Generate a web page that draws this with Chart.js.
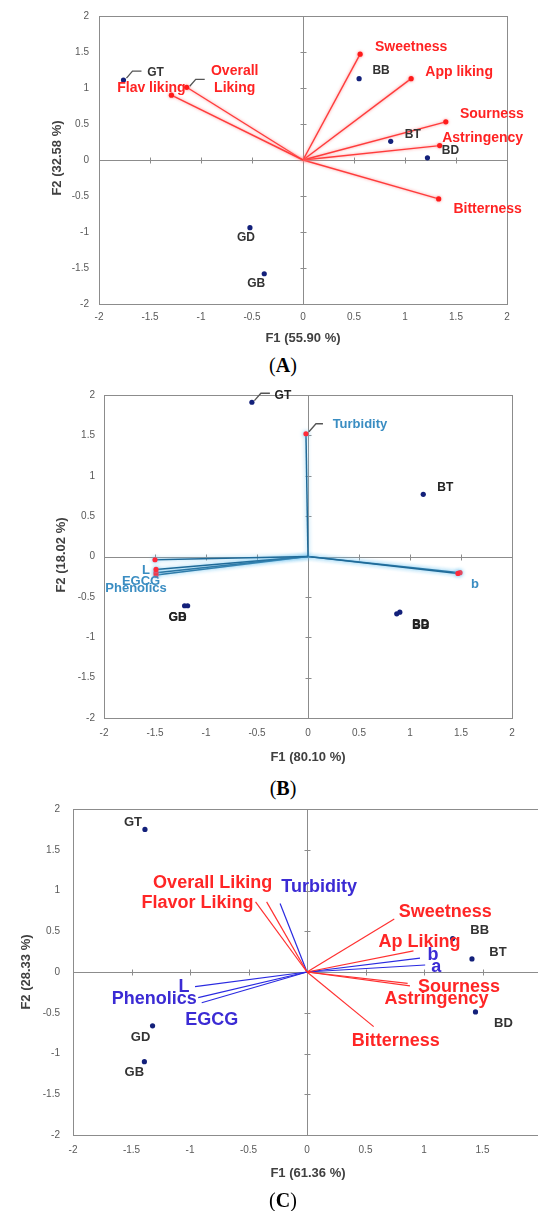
<!DOCTYPE html>
<html>
<head>
<meta charset="utf-8">
<script src="https://cdn.jsdelivr.net/npm/chart.js@4.4.1/dist/chart.umd.min.js"></script>
<style>
    html, body { margin: 0; padding: 0; background: #fff; width: 538px; height: 1211px; overflow: hidden; }
    .panel { position: absolute; left: 0; width: 538px; overflow: hidden; }
    .panel canvas { position: absolute; left: 0; top: 0; }
    .cap { position: absolute; left: 233px; width: 100px; height: 24px; line-height: 24px; text-align: center;
           font-family: "Liberation Serif", "DejaVu Serif", serif; font-size: 20px; color: #000; }
</style>
</head>
<body>
<div class="panel" id="pA" style="top:0;height:350px"><canvas id="cA"></canvas></div>
<div class="cap" style="top:353px">(<b>A</b>)</div>
<div class="panel" id="pB" style="top:380px;height:390px"><canvas id="cB"></canvas></div>
<div class="cap" style="top:776px">(<b>B</b>)</div>
<div class="panel" id="pC" style="top:790px;height:400px"><canvas id="cC"></canvas></div>
<div class="cap" style="top:1188px">(<b>C</b>)</div>

<script>
(function () {
    'use strict';

    var tickValues = [-2, -1.5, -1, -0.5, 0, 0.5, 1, 1.5, 2];

    // (A) sensory attributes
    var aSampleNames = ['GT', 'BB', 'BT', 'BD', 'GD', 'GB'];
    var aSampleF1 = [-1.76, 0.55, 0.86, 1.22, -0.52, -0.38];
    var aSampleF2 = [1.11, 1.13, 0.26, 0.03, -0.94, -1.58];
    var aVarNames = ['Flav liking', 'Overall\nLiking', 'Sweetness', 'App liking', 'Sourness', 'Astringency', 'Bitterness'];
    var aVarF1 = [-1.29, -1.14, 0.56, 1.06, 1.40, 1.34, 1.33];
    var aVarF2 = [0.90, 1.01, 1.47, 1.13, 0.53, 0.20, -0.54];

    // (B) instrumental measures
    var bSampleNames = ['GT', 'BT', 'GD', 'GB', 'BB', 'BD'];
    var bSampleF1 = [-0.55, 1.13, -1.21, -1.18, 0.87, 0.90];
    var bSampleF2 = [1.91, 0.77, -0.61, -0.61, -0.71, -0.69];
    var bVarNames = ['Turbidity', '', 'L', 'EGCG', 'Phenolics', 'a', 'b'];
    var bVarF1 = [-0.02, -1.50, -1.49, -1.49, -1.49, 1.47, 1.49];
    var bVarF2 = [1.52, -0.04, -0.16, -0.20, -0.23, -0.21, -0.20];

    // (C) sensory + instrumental
    var cSampleNames = ['GT', 'GD', 'GB', 'BB', 'BT', 'BD'];
    var cSampleF1 = [-1.385, -1.32, -1.39, 1.245, 1.41, 1.44];
    var cSampleF2 = [1.75, -0.66, -1.10, 0.41, 0.16, -0.49];
    var cSensNames = ['Overall Liking', 'Flavor Liking', 'Sweetness', 'Ap Liking', 'Sourness', 'Astringency', 'Bitterness'];
    var cSensF1 = [-0.345, -0.44, 0.746, 0.91, 0.88, 0.86, 0.57];
    var cSensF2 = [0.86, 0.86, 0.65, 0.26, -0.17, -0.14, -0.67];
    var cInstNames = ['Turbidity', 'L', 'Phenolics', 'EGCG', 'b', 'a'];
    var cInstF1 = [-0.23, -0.957, -0.93, -0.90, 0.966, 1.01];
    var cInstF2 = [0.84, -0.18, -0.315, -0.377, 0.17, 0.086];

    var SANS = '"Liberation Sans", Arial, sans-serif';

    // label offsets in px from the point (null = label hidden under another), plus leader paths
    var offA = {
        'GT': [32, -7], 'BB': [22, -8], 'BT': [22, -7], 'BD': [23, -7], 'GD': [-4, 10], 'GB': [-8, 10],
        'Flav liking': [-20, -7], 'Overall\nLiking': [48, -8], 'Sweetness': [51, -7], 'App liking': [48, -6],
        'Sourness': [46, -8], 'Astringency': [43, -7], 'Bitterness': [49, 10]
    };
    var leadA = {
        'GT': [[3, -2], [9, -9], [18, -9]],
        'Overall\nLiking': [[3, -1], [9, -8], [18, -8]]
    };
    var offB = {
        'GT': [31, -7], 'BT': [22, -7], 'GD': [-7, 12], 'GB': [-10, 12], 'BB': [24, 12], 'BD': [21, 12],
        'Turbidity': [54, -9], 'L': [-10, 1], 'EGCG': [-15, 9], 'Phenolics': [-20, 13], 'a': null, 'b': [15, 12]
    };
    var leadB = {
        'GT': [[2.5, -1.6], [9, -9], [18, -9]],
        'Turbidity': [[3, -2], [10, -10], [17, -10]]
    };
    var offC = {
        'GT': [-12, -7], 'GD': [-12, 12], 'GB': [-10, 11], 'BB': [27, -8], 'BT': [26, -7], 'BD': [28, 11],
        'Overall Liking': [-54, -19], 'Flavor Liking': [-58, 1], 'Sweetness': [51, -7], 'Ap Liking': [6, -9],
        'Sourness': [49, 1], 'Astringency': [29, 16], 'Bitterness': [22, 14],
        'Turbidity': [39, -17], 'L': [-11, 0], 'Phenolics': [-44, 1], 'EGCG': [10, 17], 'b': [13, -3], 'a': [11, 2]
    };

    function pts(f1, f2) {
        return f1.map(function (x, i) { return { x: x, y: f2[i] }; });
    }

    function vectorSets(names, f1, f2, st) {
        return names.map(function (n, i) {
            return {
                label: n,
                data: [{ x: 0, y: 0 }, { x: f1[i], y: f2[i] }],
                showLine: true,
                borderColor: st.line,
                borderWidth: st.width,
                pointRadius: [0, st.dot],
                pointHoverRadius: 0,
                pointBackgroundColor: st.dotColor,
                pointBorderWidth: 0,
                glow: st.glow
            };
        });
    }

    function sampleSet(f1, f2) {
        return {
            label: 'samples',
            data: pts(f1, f2),
            showLine: false,
            pointRadius: 2.6,
            pointBackgroundColor: '#13207a',
            pointBorderWidth: 0
        };
    }

    function labelList(names, f1, f2, offs, leads, font, color) {
        return names.map(function (n, i) {
            return { text: n, x: f1[i], y: f2[i], off: offs[n], lead: leads && leads[n], font: font, color: color };
        });
    }

    function decor(p) {
        return {
            id: 'decor',
            beforeDatasetsDraw: function (chart) {
                var ctx = chart.ctx, a = chart.chartArea;
                var sx = chart.scales.x, sy = chart.scales.y;
                ctx.save();
                ctx.strokeStyle = '#8c8c8c';
                ctx.lineWidth = 1;
                ctx.strokeRect(Math.round(a.left) + 0.5, Math.round(a.top) + 0.5, Math.round(a.right - a.left), Math.round(a.bottom - a.top));
                var y0 = Math.round(sy.getPixelForValue(0)) + 0.5;
                var x0 = Math.round(sx.getPixelForValue(0)) + 0.5;
                ctx.beginPath();
                ctx.moveTo(a.left, y0); ctx.lineTo(a.right, y0);
                ctx.moveTo(x0, a.top); ctx.lineTo(x0, a.bottom);
                tickValues.forEach(function (v) {
                    var px = Math.round(sx.getPixelForValue(v)) + 0.5;
                    var py = Math.round(sy.getPixelForValue(v)) + 0.5;
                    ctx.moveTo(px, y0 - 3); ctx.lineTo(px, y0 + 3);
                    ctx.moveTo(x0 - 3, py); ctx.lineTo(x0 + 3, py);
                });
                ctx.stroke();
                ctx.restore();
            },
            beforeDatasetDraw: function (chart, args) {
                var ds = chart.data.datasets[args.index];
                if (ds.glow) {
                    chart.ctx.save();
                    chart.ctx.shadowColor = ds.glow;
                    chart.ctx.shadowBlur = p.glowBlur;
                }
            },
            afterDatasetDraw: function (chart, args) {
                if (chart.data.datasets[args.index].glow) chart.ctx.restore();
            },
            afterDatasetsDraw: function (chart) {
                var ctx = chart.ctx;
                var sx = chart.scales.x, sy = chart.scales.y;
                ctx.save();
                ctx.textAlign = 'center';
                ctx.textBaseline = 'middle';
                p.labels.forEach(function (l) {
                    if (!l.text || !l.off) return;
                    var px = sx.getPixelForValue(l.x), py = sy.getPixelForValue(l.y);
                    if (l.lead) {
                        ctx.strokeStyle = '#555';
                        ctx.lineWidth = 1.3;
                        ctx.beginPath();
                        l.lead.forEach(function (q, k) {
                            if (k === 0) ctx.moveTo(px + q[0], py + q[1]);
                            else ctx.lineTo(px + q[0], py + q[1]);
                        });
                        ctx.stroke();
                    }
                    ctx.font = l.font;
                    ctx.fillStyle = l.color;
                    var lines = l.text.split('\n');
                    var lh = 17;
                    lines.forEach(function (s, k) {
                        ctx.fillText(s, px + l.off[0], py + l.off[1] + (k - (lines.length - 1) / 2) * lh);
                    });
                });
                ctx.fillStyle = '#404040';
                ctx.font = 'bold 13px ' + SANS;
                ctx.fillText(p.xTitle, p.xTitlePos[0], p.xTitlePos[1]);
                ctx.translate(p.yTitlePos[0], p.yTitlePos[1]);
                ctx.rotate(-Math.PI / 2);
                ctx.fillText(p.yTitle, 0, 0);
                ctx.restore();
            }
        };
    }

    function makePanel(id, p) {
        var canvas = document.getElementById(id);
        canvas.width = p.w; canvas.height = p.h;
        canvas.style.width = p.w + 'px'; canvas.style.height = p.h + 'px';
        var xAxisH = 24;
        var tickFont = { family: SANS, size: 10 };
        return new Chart(canvas.getContext('2d'), {
            type: 'scatter',
            data: { datasets: p.datasets },
            options: {
                responsive: false,
                animation: false,
                events: [],
                layout: {
                    padding: {
                        left: 0,
                        top: p.area[1],
                        right: p.w - p.area[2],
                        bottom: p.h - p.area[3] - xAxisH
                    }
                },
                plugins: { legend: { display: false }, tooltip: { enabled: false } },
                scales: {
                    x: {
                        type: 'linear', min: -2, max: 2,
                        grid: { display: false, drawTicks: false },
                        border: { display: false },
                        ticks: { font: tickFont, color: '#595959', padding: p.padX, maxRotation: 0,
                                 callback: function (v) { return String(v); } },
                        afterBuildTicks: function (s) { s.ticks = tickValues.map(function (v) { return { value: v }; }); },
                        afterFit: function (s) { s.height = xAxisH; }
                    },
                    y: {
                        type: 'linear', min: -2, max: 2,
                        grid: { display: false, drawTicks: false },
                        border: { display: false },
                        ticks: { font: tickFont, color: '#595959', padding: p.padY,
                                 callback: function (v) { return String(v); } },
                        afterBuildTicks: function (s) { s.ticks = tickValues.map(function (v) { return { value: v }; }); },
                        afterFit: function (s) { s.width = p.area[0]; }
                    }
                }
            },
            plugins: [decor(p)]
        });
    }

    var redA = { line: '#ff3b3b', width: 1.4, dot: 2.6, dotColor: '#ff1a1a', glow: 'rgba(255,130,130,0.9)' };
    makePanel('cA', {
        w: 538, h: 350, area: [99, 12, 507, 304], padX: 7, padY: 10, glowBlur: 3,
        datasets: vectorSets(aVarNames, aVarF1, aVarF2, redA).concat([sampleSet(aSampleF1, aSampleF2)]),
        labels: labelList(aVarNames, aVarF1, aVarF2, offA, leadA, 'bold 14px ' + SANS, '#ff2323')
            .concat(labelList(aSampleNames, aSampleF1, aSampleF2, offA, leadA, 'bold 12px ' + SANS, '#333')),
        xTitle: 'F1 (55.90 %)', xTitlePos: [303, 338],
        yTitle: 'F2 (32.58 %)', yTitlePos: [57, 158]
    });

    var blueB = { line: '#1f6a98', width: 1.5, dot: 2.6, dotColor: '#ff2a3a', glow: 'rgba(110,195,240,0.95)' };
    makePanel('cB', {
        w: 538, h: 390, area: [104, 11, 512, 338], padX: 9, padY: 9, glowBlur: 4,
        datasets: vectorSets(bVarNames, bVarF1, bVarF2, blueB).concat([sampleSet(bSampleF1, bSampleF2)]),
        labels: labelList(bVarNames, bVarF1, bVarF2, offB, leadB, 'bold 13px ' + SANS, '#3a8dc2')
            .concat(labelList(bSampleNames, bSampleF1, bSampleF2, offB, leadB, 'bold 12px ' + SANS, '#222')),
        xTitle: 'F1 (80.10 %)', xTitlePos: [308, 377],
        yTitle: 'F2 (18.02 %)', yTitlePos: [61, 175]
    });

    var redC = { line: '#ff3030', width: 1.2, dot: 0, dotColor: '#ff3030' };
    var blueC = { line: '#2a2ae0', width: 1.2, dot: 0, dotColor: '#2a2ae0' };
    makePanel('cC', {
        w: 570, h: 400, area: [73, 19, 541, 345], padX: 9, padY: 13, glowBlur: 0,
        datasets: vectorSets(cSensNames, cSensF1, cSensF2, redC)
            .concat(vectorSets(cInstNames, cInstF1, cInstF2, blueC))
            .concat([sampleSet(cSampleF1, cSampleF2)]),
        labels: labelList(cSensNames, cSensF1, cSensF2, offC, null, 'bold 18px ' + SANS, '#ff2626')
            .concat(labelList(cInstNames, cInstF1, cInstF2, offC, null, 'bold 18px ' + SANS, '#3b2bd4'))
            .concat(labelList(cSampleNames, cSampleF1, cSampleF2, offC, null, 'bold 13px ' + SANS, '#333')),
        xTitle: 'F1 (61.36 %)', xTitlePos: [308, 383],
        yTitle: 'F2 (28.33 %)', yTitlePos: [26, 182]
    });
})();
</script>
</body>
</html>
